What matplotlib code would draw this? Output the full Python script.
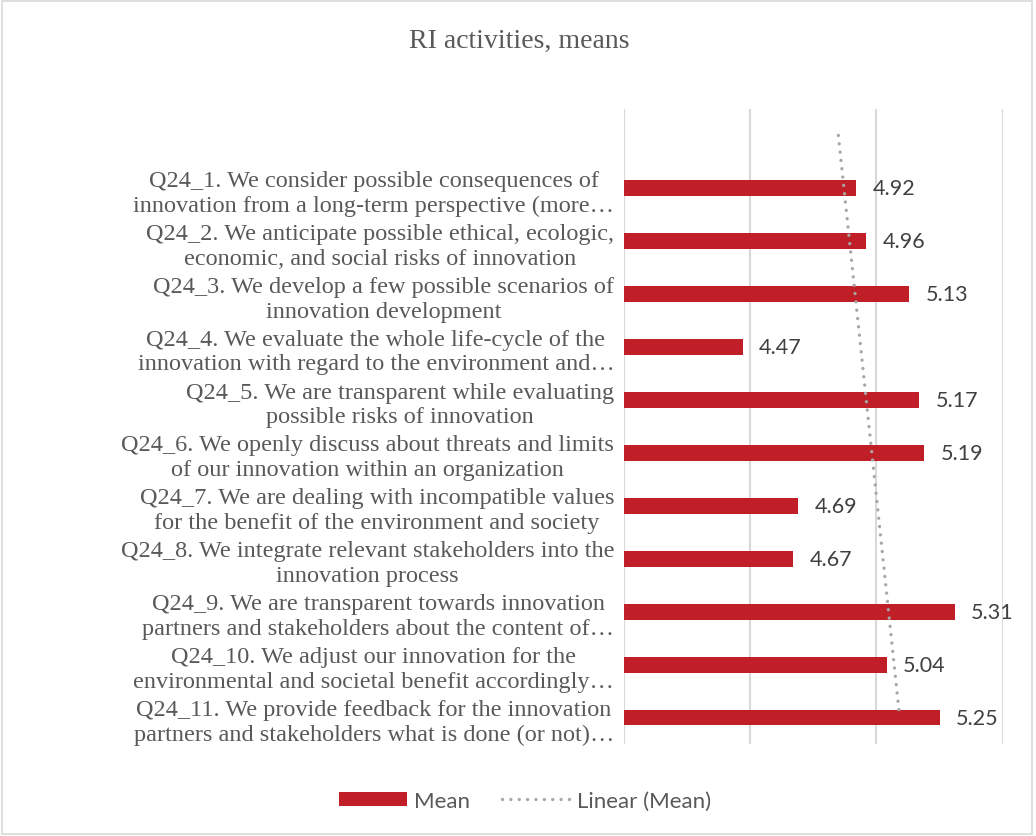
import numpy as np
import matplotlib
matplotlib.use("Agg")
import matplotlib.pyplot as plt
from matplotlib.lines import Line2D
from matplotlib.patches import Patch, Rectangle

# Survey items (top to bottom) and their mean scores
categories = [
    "Q24_1. We consider possible consequences of\ninnovation from a long-term perspective (more…",
    "Q24_2. We anticipate possible ethical, ecologic,\neconomic, and social risks of innovation",
    "Q24_3. We develop a few possible scenarios of\ninnovation development",
    "Q24_4. We evaluate the whole life-cycle of the\ninnovation with regard to the environment and…",
    "Q24_5. We are transparent while evaluating\npossible risks of innovation",
    "Q24_6. We openly discuss about threats and limits\nof our innovation within an organization",
    "Q24_7. We are dealing with incompatible values\nfor the benefit of the environment and society",
    "Q24_8. We integrate relevant stakeholders into the\ninnovation process",
    "Q24_9. We are transparent towards innovation\npartners and stakeholders about the content of…",
    "Q24_10. We adjust our innovation for the\nenvironmental and societal benefit accordingly…",
    "Q24_11. We provide feedback for the innovation\npartners and stakeholders what is done (or not)…",
]
means = [4.92, 4.96, 5.13, 4.47, 5.17, 5.19, 4.69, 4.67, 5.31, 5.04, 5.25]
x_ticks = [4.0, 4.5, 5.0, 5.5]

BAR = "#c01f27"
TREND = "#a6a6a6"
TEXT = "#595959"
GRID = "#d9d9d9"

fig = plt.figure(figsize=(10.36, 8.37), dpi=100)
ax = fig.add_axes([0.6023, 0.1099, 0.3655, 0.7587])

# category slots: an empty slot sits above the first item
pos = np.arange(1, len(means) + 1)
ax.barh(pos, [m - x_ticks[0] for m in means], left=x_ticks[0], height=0.3,
        color=BAR, zorder=2)

for p, m in zip(pos, means):
    ax.text(m + 0.065, p, f"{m:.2f}", va="center", ha="left",
            fontsize=15.5, family="Lato", color="#404040", zorder=4)

# linear trend of the means over the category slots
slope, intercept = np.polyfit(pos, means, 1)
tx = np.arange(0, len(means) + 1)
ax.plot(intercept + slope * tx, tx, color=TREND, lw=2.4,
        linestyle=(0, (0.01, 2.5)), dash_capstyle="round", zorder=3)

ax.set_xlim(x_ticks[0], x_ticks[-1])
ax.set_ylim(len(means) + 0.5, -0.5)
ax.set_xticks(x_ticks)
ax.set_xticklabels([])
ax.tick_params(axis="x", length=0)
ax.grid(axis="x", color=GRID, lw=1.5, zorder=0)
ax.set_yticks(pos)
ax.set_yticklabels(categories, family="Liberation Serif", fontsize=17.5,
                   color=TEXT, multialignment="center", linespacing=1.24)
ax.tick_params(axis="y", length=0, pad=7)
for s in ax.spines.values():
    s.set_visible(False)

fig.text(0.501, 0.950, "RI activities, means", ha="center", va="center",
         family="Liberation Serif", fontsize=20, color=TEXT)

handles = [
    Patch(facecolor=BAR, edgecolor="none"),
    Line2D([0], [0], color=TREND, lw=2.4, linestyle=(0, (0.01, 2.5)),
           dash_capstyle="round"),
]
leg = fig.legend(handles, ["Mean", "Linear (Mean)"], loc="center",
                 bbox_to_anchor=(0.507, 0.042), ncol=2, frameon=False,
                 prop={"family": "Lato", "size": 16}, labelcolor=TEXT,
                 handlelength=3.06, handleheight=0.63, handletextpad=0.3,
                 columnspacing=1.45)

fig.patches.append(Rectangle((0.002, 0.002), 0.994, 0.996, transform=fig.transFigure,
                             fill=False, edgecolor=GRID, lw=1.2))

fig.savefig("out.png", dpi=100)
